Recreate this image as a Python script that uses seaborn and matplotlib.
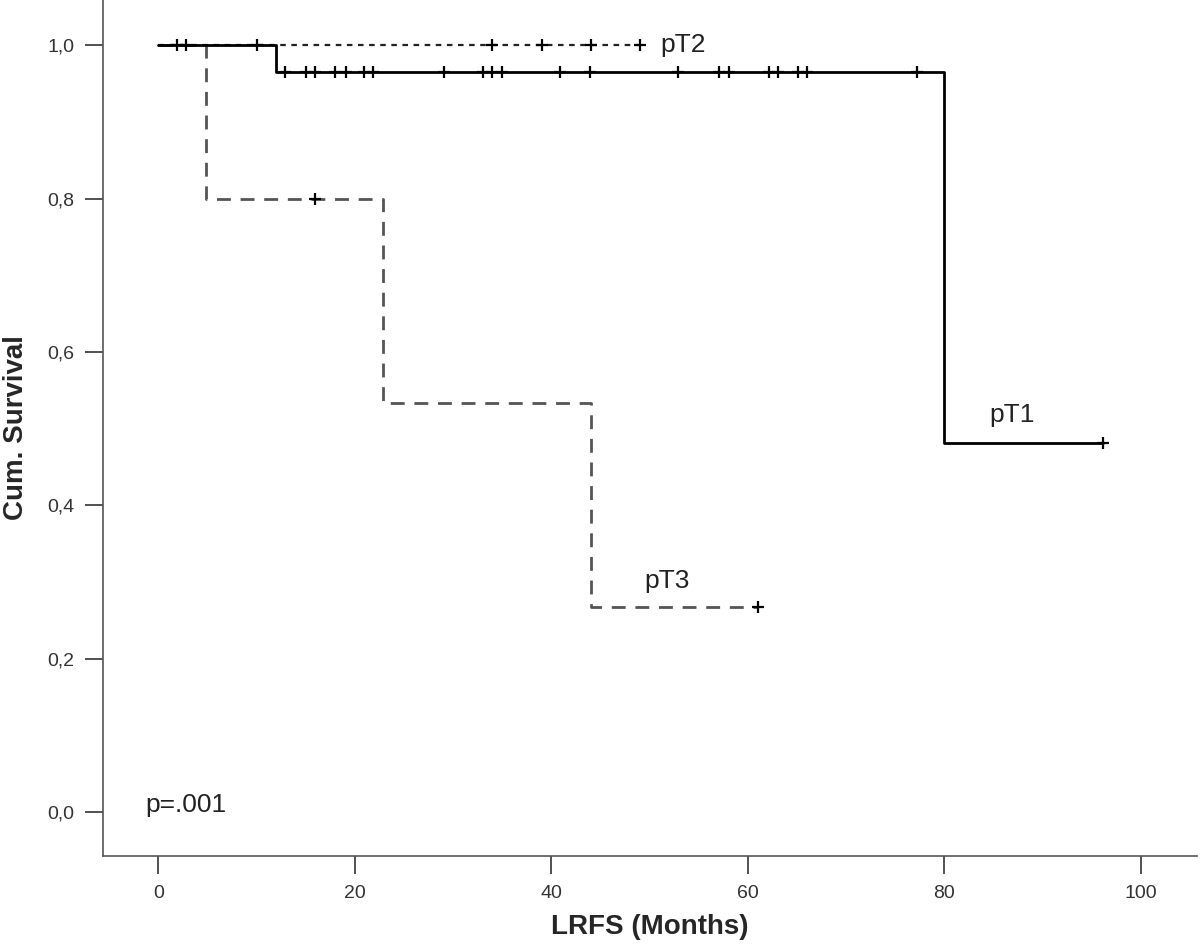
import numpy as np
import pandas as pd
import seaborn as sns
import matplotlib.pyplot as plt

# Kaplan-Meier steps (time in months, cumulative survival after the step)
pt1_time = [0, 12, 80, 96.1]
pt1_surv = [1.0, 0.965, 0.482, 0.482]
pt1_censor = [1.9, 2.8, 10, 12.9, 15, 16, 18, 19.1, 20.9, 21.9, 29.1, 33, 34,
              35, 40.9, 43.9, 52.9, 57.1, 58.1, 62.1, 63.1, 65.1, 66, 77.2, 96.1]

pt2_time = [0, 49]
pt2_surv = [1.0, 1.0]
pt2_censor = [34, 39, 44, 49]

pt3_time = [0, 4.9, 22.9, 44, 61]
pt3_surv = [1.0, 0.8, 0.533, 0.267, 0.267]
pt3_censor = [16, 61]

groups = ['pT1', 'pT2', 'pT3']
label_pos = {'pT1': (84.6, 0.518), 'pT2': (51.1, 1.0), 'pT3': (49.5, 0.302)}


def surv_at(times, survs, t):
    idx = np.searchsorted(times, t, side='right') - 1
    return np.array(survs)[idx]


steps = pd.DataFrame({
    'time': pt1_time + pt2_time + pt3_time,
    'surv': pt1_surv + pt2_surv + pt3_surv,
    'group': ['pT1'] * len(pt1_time) + ['pT2'] * len(pt2_time) + ['pT3'] * len(pt3_time),
})
cens = pd.DataFrame({
    'time': pt1_censor + pt2_censor + pt3_censor,
    'surv': list(surv_at(pt1_time, pt1_surv, pt1_censor))
            + list(surv_at(pt2_time, pt2_surv, pt2_censor))
            + list(surv_at(pt3_time, pt3_surv, pt3_censor)),
})

sns.set_style('white')
plt.rcParams['font.family'] = ['Liberation Sans', 'DejaVu Sans']

fig = plt.figure(figsize=(12, 9.5), dpi=100)
ax = fig.add_axes([0.086, 0.099, 0.9115, 0.901])

styles = {
    'pT1': dict(color='black', lw=2.0, ls='-'),
    'pT2': dict(color='#222222', lw=1.6, ls=(0, (2.5, 2.5))),
    'pT3': dict(color='#555555', lw=2.0, ls=(0, (5, 3.5))),
}
for g in ['pT3', 'pT2', 'pT1']:
    sub = steps[steps['group'] == g]
    st = styles[g]
    sns.lineplot(data=sub, x='time', y='surv', drawstyle='steps-post', color=st['color'],
                 linewidth=st['lw'], linestyle=st['ls'], estimator=None, sort=False, ax=ax,
                 zorder=3 if g == 'pT1' else 2)

sns.scatterplot(data=cens, x='time', y='surv', marker='+', s=70, color='black',
                linewidth=1.6, ax=ax, zorder=4)

for g in groups:
    x, y = label_pos[g]
    ax.text(x, y, g, fontsize=19, color='#222222', va='center', ha='left')
ax.text(-1.3, 0.01, 'p=.001', fontsize=19, color='#222222', va='center', ha='left')

ax.set_xlim(-5.6, 105.7)
ax.set_ylim(-0.057, 1.059)
ax.set_xticks([0, 20, 40, 60, 80, 100])
ax.set_yticks([0, 0.2, 0.4, 0.6, 0.8, 1.0])
ax.set_yticklabels(['0,0', '0,2', '0,4', '0,6', '0,8', '1,0'])
ax.tick_params(axis='both', direction='out', length=13, width=1.2, color='#333333',
               labelsize=14, labelcolor='#333333', pad=8, left=True, bottom=True)

ax.set_xlabel('LRFS (Months)', fontsize=20, fontweight='bold')
ax.set_ylabel('Cum. Survival', fontsize=20, fontweight='bold')
ax.xaxis.set_label_coords(0.5, -0.068)
ax.yaxis.set_label_coords(-0.068, 0.5)

for side in ['top', 'right']:
    ax.spines[side].set_visible(False)
for side in ['left', 'bottom']:
    ax.spines[side].set_color('#555555')
    ax.spines[side].set_linewidth(1.2)

plt.savefig('out.png', dpi=100)
